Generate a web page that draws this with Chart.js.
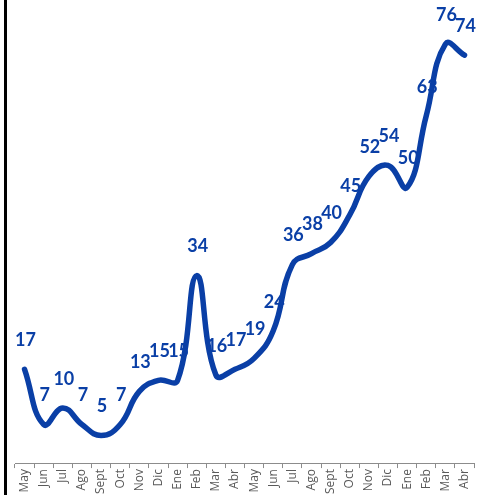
<!DOCTYPE html>
<html>
<head>
<meta charset="utf-8">
<script src="https://cdn.jsdelivr.net/npm/chart.js@4"></script>
<style>
  body { margin: 0; background: #fff; }
  #wrap { position: relative; width: 480px; height: 495px; }
  #edge { position: absolute; left: 4px; top: 0; width: 3px; height: 495px; background: #000; }
</style>
</head>
<body>
<div id="wrap">
  <canvas id="chart" width="480" height="495"></canvas>
  <div id="edge"></div>
</div>
<script>
const months = ['May', 'Jun', 'Jul', 'Ago', 'Sept', 'Oct', 'Nov', 'Dic', 'Ene', 'Feb', 'Mar', 'Abr',
                'May', 'Jun', 'Jul', 'Ago', 'Sept', 'Oct', 'Nov', 'Dic', 'Ene', 'Feb', 'Mar', 'Abr']
const values = [17, 7, 10, 7, 5, 7, 13, 15, 15, 34, 16, 17, 19, 24, 36, 38, 40, 45, 52, 54, 50, 63, 76, 74]

const blue = '#0a3fa6'

// draws the value above each point, like excel "above" labels
const valueLabels = {
  id: 'valueLabels',
  afterDatasetsDraw(chart) {
    const ctx = chart.ctx
    const meta = chart.getDatasetMeta(0)
    ctx.save()
    ctx.font = 'bold 18px Lato'
    ctx.fillStyle = blue
    ctx.textAlign = 'center'
    ctx.textBaseline = 'middle'
    meta.data.forEach(function (pt, i) {
      ctx.fillText(values[i], pt.x + 1, pt.y - 29)
    })
    ctx.restore()
  }
}

new Chart(document.getElementById('chart'), {
  type: 'line',
  data: {
    labels: months,
    datasets: [{
      data: values,
      borderColor: blue,
      borderWidth: 5.5,
      tension: 0.45,
      pointRadius: 0,
      borderCapStyle: 'round',
      borderJoinStyle: 'round',
      fill: false
    }]
  },
  options: {
    responsive: false,
    animation: false,
    layout: { padding: { left: 15, right: 4, top: 0, bottom: 0 } },
    plugins: { legend: { display: false }, tooltip: { enabled: false } },
    scales: {
      x: {
        offset: true,
        grid: { offset: true, drawOnChartArea: false, drawTicks: true, tickLength: 5, color: '#8c8c8c' },
        border: { display: true, color: '#8c8c8c', width: 1 },
        ticks: { minRotation: 90, maxRotation: 90, autoSkip: false, padding: 1,
                 color: '#595959', font: { family: 'Open Sans', size: 12 } }
      },
      y: {
        display: false,
        min: 0,
        max: 84
      }
    }
  },
  plugins: [valueLabels]
})
</script>
</body>
</html>
